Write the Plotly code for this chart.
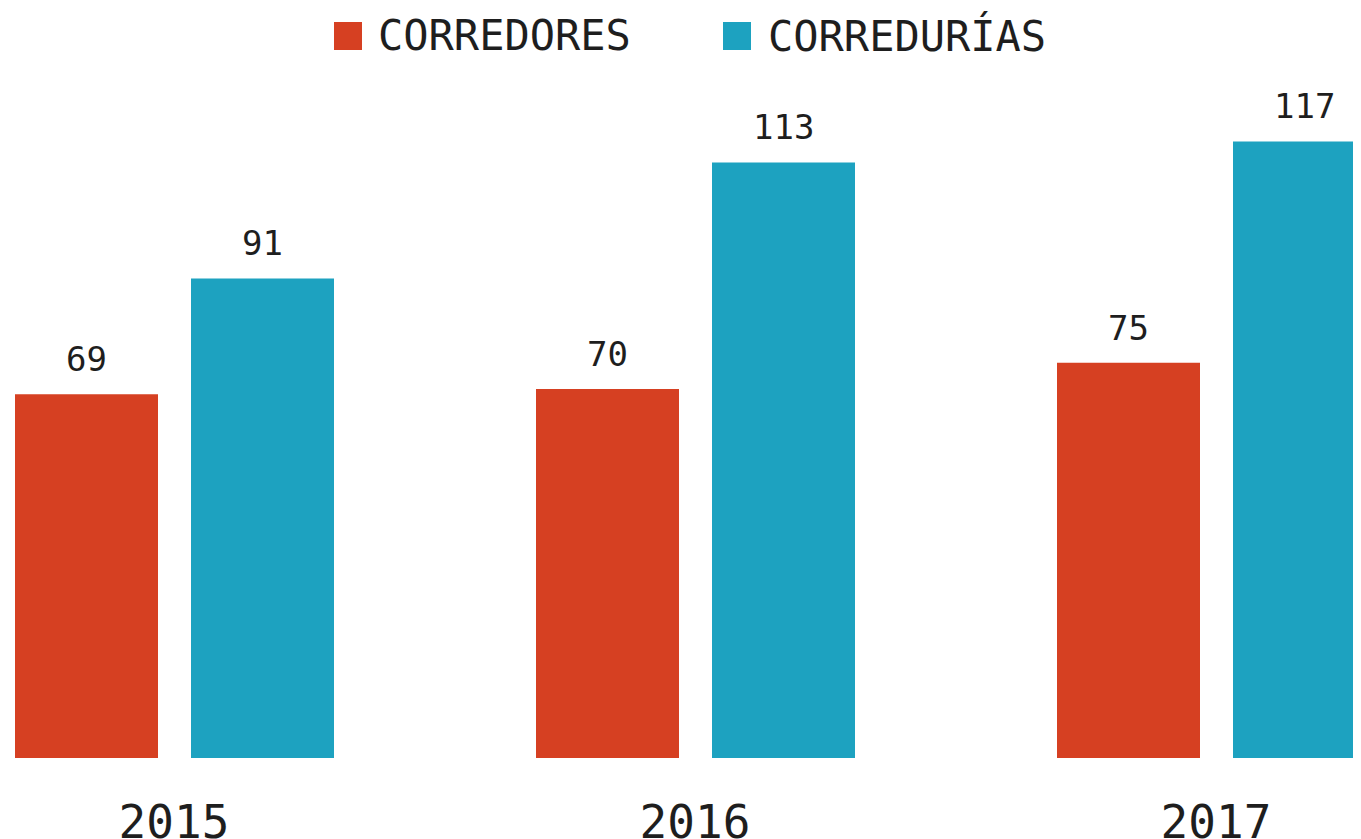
import plotly.graph_objects as go

years = ["2015", "2016", "2017"]
series_names = ["CORREDORES", "CORREDURÍAS"]
corredores = [69, 70, 75]
corredurias = [91, 113, 117]
colors = ["#D64022", "#1DA2C0"]

# page is rendered with an 8px body margin; size the figure to fill the window
OFF = 8
W, H = 1361 - OFF, 839 - OFF
baseline_page = 758
MT = 80 - OFF
MB = H - (baseline_page - OFF)
ML, MR = 0, 0
plot_h = H - MT - MB
px_per_unit = 5.27
y_max = plot_h / px_per_unit
group_px = 521.0
center0 = 174.0 - OFF
x_range = [-center0 / group_px, (W - center0) / group_px]

bar_w = 143 / group_px
offsets = [-159 / group_px, 17 / group_px]
FONT = "DejaVu Sans Mono"
TXT = "#1e1e1e"


def py(page_y):
    return (H - MB - (page_y - OFF)) / plot_h


def px(page_x):
    return (page_x - OFF) / W


xs = list(range(len(years)))
fig = go.Figure()
for name, vals, col, off in zip(series_names, [corredores, corredurias], colors, offsets):
    fig.add_trace(go.Bar(
        x=xs, y=vals, name=name, width=bar_w, offset=off,
        marker=dict(color=col, line=dict(width=0)), showlegend=False,
    ))
    for xi, v in zip(xs, vals):
        fig.add_annotation(
            x=xi + off + bar_w / 2, y=v, text=str(v), showarrow=False,
            yanchor="middle", yshift=35, font=dict(family=FONT, size=34, color=TXT),
        )

# legend (manual, large squares)
leg_items = [(334, 376), (723, 766)]
for (sq_x, tx_x), name, col in zip(leg_items, series_names, colors):
    fig.add_shape(type="rect", xref="paper", yref="paper",
                  x0=px(sq_x), x1=px(sq_x + 28),
                  y0=py(50), y1=py(22),
                  fillcolor=col, line=dict(width=0))
    fig.add_annotation(xref="paper", yref="paper", x=px(tx_x), y=py(36),
                       xanchor="left", yanchor="middle", text=name, showarrow=False,
                       font=dict(family=FONT, size=42, color=TXT))

fig.update_layout(
    width=W, height=H,
    margin=dict(l=ML, r=MR, t=MT, b=MB, autoexpand=False),
    paper_bgcolor="white", plot_bgcolor="white",
    barmode="group",
    xaxis=dict(range=x_range, tickvals=xs, ticktext=years, showgrid=False,
               zeroline=False, showline=False, ticks="", automargin=False,
               tickfont=dict(family=FONT, size=46, color=TXT), ticklabelstandoff=33),
    yaxis=dict(range=[0, y_max], visible=False, showgrid=False, zeroline=False,
               automargin=False),
)
fig.write_html("out.html")
